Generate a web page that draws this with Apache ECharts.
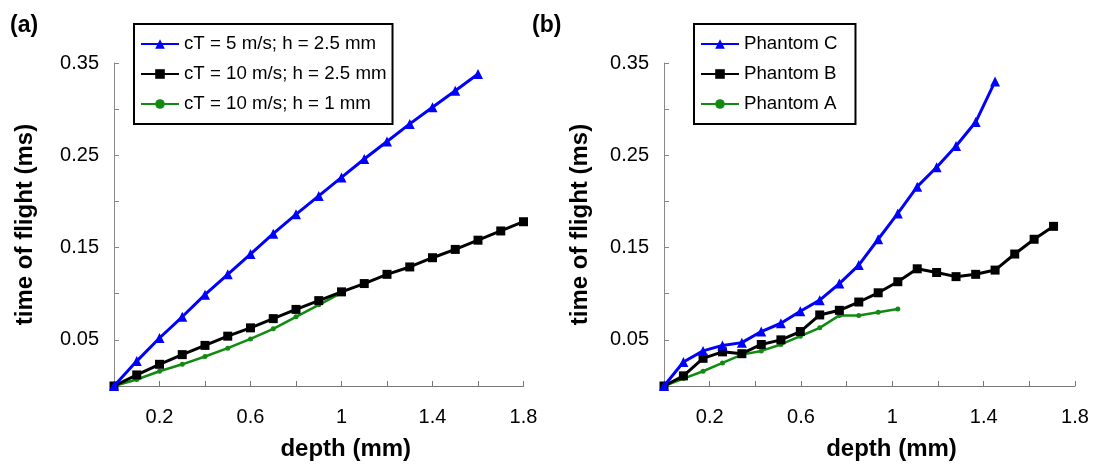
<!DOCTYPE html>
<html>
<head>
<meta charset="utf-8">
<script src="https://cdn.jsdelivr.net/npm/echarts@6/dist/echarts.min.js"></script>
<style>
  html, body { margin: 0; padding: 0; background: #fff; }
  #chart { width: 1097px; height: 466px; }
</style>
</head>
<body>
<div id="chart"></div>
<script>
// panel (a): depth steps and times of flight
const depthA = [0, 0.1, 0.2, 0.3, 0.4, 0.5, 0.6, 0.7, 0.8, 0.9, 1.0, 1.1, 1.2, 1.3, 1.4, 1.5, 1.6, 1.7, 1.8];
const tofC5h25 = [0, 0.027, 0.052, 0.075, 0.099, 0.121, 0.143, 0.165, 0.186, 0.206, 0.226, 0.246, 0.265, 0.284, 0.302, 0.320, 0.338];
const tofC10h25 = [0, 0.012, 0.0235, 0.034, 0.044, 0.054, 0.063, 0.073, 0.083, 0.0925, 0.102, 0.111, 0.121, 0.129, 0.139, 0.148, 0.158, 0.168, 0.178];
const tofC10h1 = [0, 0.007, 0.016, 0.0235, 0.032, 0.041, 0.051, 0.062, 0.075, 0.088, 0.101];

// panel (b): phantoms
const depthB = [0, 0.085, 0.171, 0.256, 0.341, 0.426, 0.512, 0.597, 0.682, 0.768, 0.853, 0.938, 1.024, 1.109, 1.194, 1.279, 1.365, 1.45, 1.536, 1.621, 1.706];
const phantomC = [0, 0.026, 0.038, 0.044, 0.047, 0.059, 0.068, 0.081, 0.093, 0.111, 0.131, 0.159, 0.187, 0.216, 0.237, 0.26, 0.286, 0.33];
const phantomB = [0, 0.011, 0.030, 0.037, 0.035, 0.045, 0.050, 0.059, 0.077, 0.082, 0.091, 0.101, 0.113, 0.127, 0.123, 0.1185, 0.121, 0.1256, 0.143, 0.159, 0.173];
const phantomA = [0, 0.008, 0.016, 0.025, 0.034, 0.038, 0.045, 0.054, 0.063, 0.0765, 0.0765, 0.080, 0.0835];

const legendA = ["cT = 5 m/s; h = 2.5 mm", "cT = 10 m/s; h = 2.5 mm", "cT = 10 m/s; h = 1 mm"];
const legendB = ["Phantom C", "Phantom B", "Phantom A"];

const FONT = "'Liberation Sans', Arial, sans-serif";

const pairs = (xs, ys) => ys.map((y, i) => [xs[i], y]);

const xAxisFor = (gridIndex, shift) => ({
  type: "value",
  gridIndex,
  min: 0,
  max: 1.8,
  interval: 0.2,
  name: "depth (mm)",
  nameLocation: "middle",
  nameGap: 51,
  nameTextStyle: {
    fontFamily: FONT, fontSize: 24, fontWeight: "bold", color: "#000",
    padding: [0, 0, 0, shift],
  },
  axisLine: { lineStyle: { color: "#777", width: 1 } },
  axisTick: { inside: true, length: 5, lineStyle: { color: "#777" } },
  axisLabel: {
    margin: 21,
    fontFamily: FONT, fontSize: 20, color: "#000",
    formatter: (v) => (Math.round(v * 10) % 4 === 2 ? String(+v.toFixed(1)) : ""),
  },
  splitLine: { show: false },
});

const yAxisFor = (gridIndex, gap) => ({
  type: "value",
  gridIndex,
  min: 0,
  max: 0.35,
  interval: 0.05,
  name: "time of flight (ms)",
  nameLocation: "middle",
  nameGap: gap,
  nameTextStyle: {
    fontFamily: FONT, fontSize: 24, fontWeight: "bold", color: "#000",
  },
  axisLine: { show: true, lineStyle: { color: "#888", width: 1 } },
  axisTick: { show: true, inside: true, length: 5, lineStyle: { color: "#888" } },
  axisLabel: {
    margin: 15,
    fontFamily: FONT, fontSize: 20, color: "#000",
    formatter: (v) => (Math.round(v * 100) % 10 === 5 ? v.toFixed(2) : ""),
  },
  splitLine: { show: false },
});

const lineSeries = (name, idx, data, color, symbol, size, width, z) => ({
  name,
  type: "line",
  xAxisIndex: idx,
  yAxisIndex: idx,
  data,
  symbol,
  symbolSize: size,
  showAllSymbol: true,
  z,
  lineStyle: { color, width },
  itemStyle: { color },
  emphasis: { disabled: true },
});

const legendFor = (data, left, padRight) => ({
  data,
  orient: "vertical",
  left,
  top: 24,
  padding: [10, padRight, 10, 6],
  borderColor: "#000",
  borderWidth: 2,
  itemWidth: 38,
  itemHeight: 12,
  itemGap: 10,
  textStyle: { fontFamily: FONT, fontSize: 18.7, lineHeight: 20, color: "#000" },
  selectedMode: false,
});

const chart = echarts.init(document.getElementById("chart"));
chart.setOption({
  animation: false,
  backgroundColor: "#fff",
  grid: [
    { left: 114, top: 63, width: 409.5, height: 328 },
    { left: 664, top: 63, width: 411, height: 328 },
  ],
  xAxis: [xAxisFor(0, 54), xAxisFor(1, 44)],
  yAxis: [yAxisFor(0, 77), yAxisFor(1, 72)],
  legend: [legendFor(legendA, 134, 6), legendFor(legendB, 694, 18)],
  title: [
    { text: "(a)", left: 5, top: 9, textStyle: { fontFamily: FONT, fontSize: 23, fontWeight: "bold", color: "#000" } },
    { text: "(b)", left: 527, top: 9, textStyle: { fontFamily: FONT, fontSize: 23, fontWeight: "bold", color: "#000" } },
  ],
  series: [
    lineSeries(legendA[2], 0, pairs(depthA, tofC10h1), "#118a11", "circle", 5, 2.5, 2),
    lineSeries(legendA[1], 0, pairs(depthA, tofC10h25), "#000000", "rect", 9, 3, 3),
    lineSeries(legendA[0], 0, pairs(depthA, tofC5h25), "#0000ff", "triangle", 10, 3, 4),
    lineSeries(legendB[2], 1, pairs(depthB, phantomA), "#118a11", "circle", 5, 2.5, 2),
    lineSeries(legendB[1], 1, pairs(depthB, phantomB), "#000000", "rect", 9, 3, 3),
    lineSeries(legendB[0], 1, pairs(depthB, phantomC), "#0000ff", "triangle", 10, 3, 4),
  ],
});
</script>
</body>
</html>
